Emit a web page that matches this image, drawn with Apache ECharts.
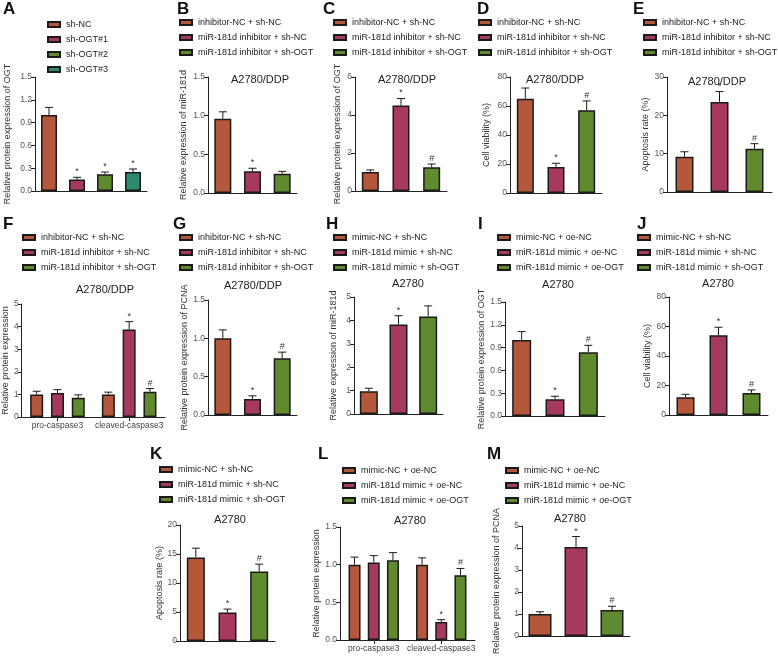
<!DOCTYPE html>
<html lang="en">
<head>
<meta charset="UTF-8">
<title>miR-181d / OGT panels</title>
<script src="https://cdn.jsdelivr.net/npm/echarts@6/dist/echarts.min.js"></script>
<style>
    html, body { margin: 0; padding: 0; background: #fff; }
    #main { width: 778px; height: 656px; }
</style>
</head>
<body>
<div id="main"></div>
<script>
// group names used in the legends
var shGroups = ['sh-NC', 'sh-OGT#1', 'sh-OGT#2', 'sh-OGT#3'];
var inhGroups = ['inhibitor-NC + sh-NC', 'miR-181d inhibitor + sh-NC', 'miR-181d inhibitor + sh-OGT'];
var mimShGroups = ['mimic-NC + sh-NC', 'miR-181d mimic + sh-NC', 'miR-181d mimic + sh-OGT'];
var mimOeGroups = ['mimic-NC + oe-NC', 'miR-181d mimic + oe-NC', 'miR-181d mimic + oe-OGT'];
var caspCats = ['pro-caspase3', 'cleaved-caspase3'];

// values (mean), error (SD, upper only) and significance marks
var valA = [1.00, 0.15, 0.22, 0.25], errA = [0.10, 0.03, 0.03, 0.04], sigA = ['', '*', '*', '*'];
var valB = [0.96, 0.28, 0.25], errB = [0.09, 0.04, 0.03], sigB = ['', '*', ''];
var valC = [1.00, 4.50, 1.25], errC = [0.11, 0.37, 0.17], sigC = ['', '*', '#'];
var valD = [65.0, 18.0, 57.0], errD = [7.4, 2.5, 6.5], sigD = ['', '*', '#'];
var valE = [9.2, 23.5, 11.3], errE = [1.3, 2.7, 1.3], sigE = ['', '*', '#'];
// F: one row per group, columns = pro / cleaved caspase3
var valF = [[1.00, 1.00], [1.06, 3.87], [0.85, 1.12]];
var errF = [[0.14, 0.10], [0.15, 0.35], [0.13, 0.14]];
var sigF = [['', ''], ['', '*'], ['', '#']];
var valG = [1.00, 0.21, 0.74], errG = [0.11, 0.04, 0.08], sigG = ['', '*', '#'];
var valH = [0.97, 3.83, 4.17], errH = [0.13, 0.37, 0.45], sigH = ['', '*', ''];
var valI = [1.00, 0.22, 0.84], errI = [0.11, 0.04, 0.09], sigI = ['', '*', '#'];
var valJ = [12.0, 54.0, 15.0], errJ = [2.0, 5.5, 2.0], sigJ = ['', '*', '#'];
var valK = [14.4, 4.9, 12.0], errK = [1.6, 0.6, 1.25], sigK = ['', '*', '#'];
var valL = [[1.00, 1.00], [1.03, 0.24], [1.06, 0.86]];
var errL = [[0.10, 0.09], [0.09, 0.03], [0.10, 0.09]];
var sigL = [['', ''], ['', '*'], ['', '#']];
var valM = [1.00, 4.05, 1.18], errM = [0.10, 0.47, 0.17], sigM = ['', '*', '#'];

var colors = ['#b4573b', '#a6395f', '#5f8a2d', '#2b8a70'];
var font = "'Liberation Sans', Arial, sans-serif";

var panels = [
    {letter: 'A', lx: 3, ly: 1, g: [35, 77, 147, 191], max: 1.5, step: 0.3, dec: 1, name: 'Relative protein expression of OGT', gap: 23,
        leg: [47, 19], title: '', bw: 16, groups: shGroups, val: valA, err: errA, sig: sigA},
    {letter: 'B', lx: 177, ly: 1, g: [208, 77, 297, 193], max: 1.5, step: 0.5, dec: 1, name: 'Relative expression of miR-181d', gap: 20,
        leg: [179, 17], title: 'A2780/DDP', tx: 260, ty: 80, bw: 17, groups: inhGroups, val: valB, err: errB, sig: sigB},
    {letter: 'C', lx: 323, ly: 1, g: [355, 77, 447, 191], max: 6, step: 2, dec: 0, name: 'Relative protein expression of OGT', gap: 13,
        leg: [333, 17], title: 'A2780/DDP', tx: 407, ty: 80, bw: 17, groups: inhGroups, val: valC, err: errC, sig: sigC},
    {letter: 'D', lx: 477, ly: 1, g: [510, 77, 602, 193], max: 80, step: 20, dec: 0, name: 'Cell viability (%)', gap: 19,
        leg: [478, 17], title: 'A2780/DDP', tx: 555, ty: 80, bw: 17, groups: inhGroups, val: valD, err: errD, sig: sigD},
    {letter: 'E', lx: 633, ly: 1, g: [667, 77, 772, 192], max: 30, step: 10, dec: 0, name: 'Apoptosis rate (%)', gap: 17,
        leg: [643, 17], title: 'A2780/DDP', tx: 717, ty: 82, bw: 18, groups: inhGroups, val: valE, err: errE, sig: sigE},
    {letter: 'F', lx: 3, ly: 216, g: [19, 304, 165, 417], max: 5, step: 1, dec: 0, name: 'Relative protein expression', gap: 10,
        leg: [22, 232], title: 'A2780/DDP', tx: 105, ty: 290, bw: 13, gapPct: 60, cats: caspCats, groups: inhGroups, val: valF, err: errF, sig: sigF},
    {letter: 'G', lx: 173, ly: 216, g: [208, 300, 297, 415], max: 1.5, step: 0.5, dec: 1, name: 'Relative protein expression of PCNA', gap: 19,
        leg: [179, 232], title: 'A2780/DDP', tx: 253, ty: 286, bw: 17, groups: inhGroups, val: valG, err: errG, sig: sigG},
    {letter: 'H', lx: 326, ly: 216, g: [354, 297, 443, 414], max: 5, step: 1, dec: 0, name: 'Relative expression of miR-181d', gap: 16,
        leg: [333, 232], title: 'A2780', tx: 408, ty: 284, bw: 18, groups: mimShGroups, val: valH, err: errH, sig: sigH},
    {letter: 'I', lx: 478, ly: 216, g: [505, 302, 605, 416], max: 1.5, step: 0.3, dec: 1, name: 'Relative protein expression of OGT', gap: 15,
        leg: [497, 232], title: 'A2780', tx: 558, ty: 285, bw: 19, groups: mimOeGroups, val: valI, err: errI, sig: sigI},
    {letter: 'J', lx: 637, ly: 216, g: [669, 297, 768, 415], max: 80, step: 20, dec: 0, name: 'Cell viability (%)', gap: 17,
        leg: [637, 232], title: 'A2780', tx: 718, ty: 284, bw: 18, groups: mimShGroups, val: valJ, err: errJ, sig: sigJ},
    {letter: 'K', lx: 150, ly: 446, g: [180, 525, 275, 641], max: 20, step: 5, dec: 0, name: 'Apoptosis rate (%)', gap: 13,
        leg: [159, 464], title: 'A2780', tx: 230, ty: 520, bw: 18, groups: mimShGroups, val: valK, err: errK, sig: sigK},
    {letter: 'L', lx: 318, ly: 446, g: [340, 527, 475, 640], max: 1.5, step: 0.5, dec: 1, name: 'Relative protein expression', gap: 15,
        leg: [342, 465], title: 'A2780', tx: 410, ty: 521, bw: 12, gapPct: 60, cats: caspCats, groups: mimOeGroups, val: valL, err: errL, sig: sigL},
    {letter: 'M', lx: 487, ly: 446, g: [522, 526, 630, 638], max: 5, step: 1, dec: 0, name: 'Relative protein expression of PCNA', gap: 21,
        leg: [505, 465], title: 'A2780', tx: 570, ty: 519, bw: 23, groups: mimOeGroups, val: valM, err: errM, sig: sigM}
];

var grids = [], xAxes = [], yAxes = [], series = [], legends = [], graphics = [];

function errorRenderer(marks) {
    return function (params, api) {
        var base = api.coord([api.value(0), api.value(1)]);
        var top = api.coord([api.value(0), api.value(1) + api.value(2)]);
        var x = base[0] + api.value(3);
        var st = {stroke: '#1a1a1a', lineWidth: 1};
        return {
            type: 'group',
            children: [
                {type: 'line', shape: {x1: x, y1: base[1], x2: x, y2: top[1]}, style: st},
                {type: 'line', shape: {x1: x - 4, y1: top[1], x2: x + 4, y2: top[1]}, style: st},
                {type: 'text', style: {x: x, y: top[1] - 1, text: marks[params.dataIndex], fill: '#333',
                    font: '9px ' + font, textAlign: 'center', textVerticalAlign: 'bottom'}}
            ]
        };
    };
}

panels.forEach(function (p, k) {
    var grouped = !!p.cats;
    var cats = grouped ? p.cats : p.groups;
    grids.push({left: p.g[0], top: p.g[1], width: p.g[2] - p.g[0], height: p.g[3] - p.g[1]});
    xAxes.push({
        type: 'category', gridIndex: k, data: cats,
        axisLine: {lineStyle: {color: '#222', width: 1}},
        axisTick: {show: grouped, alignWithLabel: true, length: 4, lineStyle: {color: '#222'}},
        axisLabel: {show: grouped, fontSize: 8.5, color: '#444', margin: 4, fontFamily: font, interval: 0}
    });
    yAxes.push({
        type: 'value', gridIndex: k, min: 0, max: p.max, interval: p.step,
        axisLine: {show: true, lineStyle: {color: '#222', width: 1}},
        axisTick: {show: true, length: 4, lineStyle: {color: '#222'}},
        axisLabel: {fontSize: 8.5, color: '#555', margin: 3, fontFamily: font,
            formatter: function (v) { return v.toFixed(p.dec); }},
        splitLine: {show: false},
        name: p.name, nameLocation: 'middle', nameGap: p.gap, nameRotate: 90,
        nameTextStyle: {fontSize: 9, color: '#333', fontFamily: font}
    });

    var errData = [];
    var marks = [];
    p.groups.forEach(function (gname, i) {
        var data;
        if (grouped) {
            data = p.val[i];
            var step = p.bw * (1 + p.gapPct / 100);
            cats.forEach(function (c, j) {
                errData.push([j, p.val[i][j], p.err[i][j], (i - 1) * step]);
                marks.push(p.sig[i][j]);
            });
        } else {
            data = p.groups.map(function (g, j) { return j === i ? p.val[i] : '-'; });
            errData.push([i, p.val[i], p.err[i], 0]);
            marks.push(p.sig[i]);
        }
        series.push({
            type: 'bar', name: gname, xAxisIndex: k, yAxisIndex: k, data: data,
            barWidth: p.bw, barGap: grouped ? p.gapPct + '%' : '-100%',
            itemStyle: {color: colors[i], borderColor: '#1a1a1a', borderWidth: 1.5},
            silent: true
        });
    });
    series.push({
        type: 'custom', xAxisIndex: k, yAxisIndex: k, data: errData, z: 5,
        encode: {x: 0, y: 1}, renderItem: errorRenderer(marks), silent: true
    });

    legends.push({
        orient: 'vertical', left: p.leg[0], top: p.leg[1],
        itemWidth: 12, itemHeight: 5, itemGap: 4, selectedMode: false,
        icon: 'rect', padding: 0,
        textStyle: {fontSize: 9, color: '#222', fontFamily: font, lineHeight: 11, padding: [0, 0, 0, 1]},
        data: p.groups
    });

    graphics.push({type: 'text', left: p.lx, top: p.ly,
        style: {text: p.letter, font: 'bold 17px ' + font, fill: '#111'}});
    if (p.title) {
        graphics.push({type: 'text', x: p.tx, y: p.ty,
            style: {text: p.title, font: '11px ' + font, fill: '#222', textAlign: 'center', textVerticalAlign: 'middle'}});
    }
});

var myChart = echarts.init(document.getElementById('main'), null, {renderer: 'canvas'});
var option = {
    animation: false,
    backgroundColor: '#fff',
    grid: grids,
    xAxis: xAxes,
    yAxis: yAxes,
    legend: legends,
    graphic: graphics,
    series: series
};
myChart.setOption(option);
</script>
</body>
</html>
